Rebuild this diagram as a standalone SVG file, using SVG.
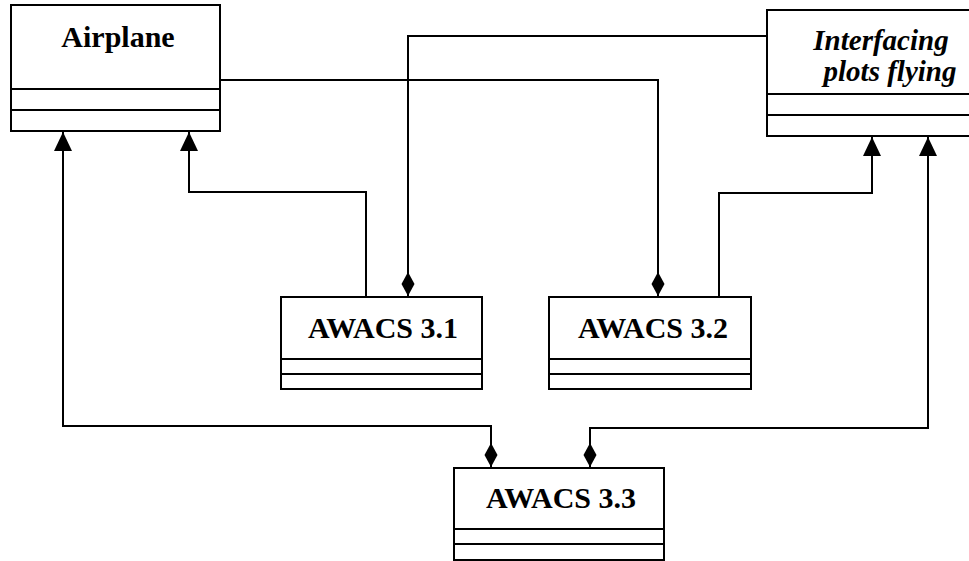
<svg xmlns="http://www.w3.org/2000/svg" width="969" height="561" viewBox="0 0 969 561">
<style>
.box{fill:#fff;stroke:#000;stroke-width:2}
.ln{fill:none;stroke:#000;stroke-width:2}
.t{font-family:"Liberation Serif","Times New Roman",serif;font-weight:bold;font-size:30px;fill:#000}
.i{font-style:italic;font-size:29px}
.c{fill:none;stroke:#000;stroke-width:2}
</style>
<defs>
<marker id="tri" markerUnits="userSpaceOnUse" markerWidth="20" markerHeight="20" viewBox="0 0 20 20" refX="19" refY="9" orient="auto">
<path d="M0,0 L19,9 L0,18 Z" fill="#000"/>
</marker>
<marker id="dia" markerUnits="userSpaceOnUse" markerWidth="26" markerHeight="14" viewBox="0 0 26 14" refX="25" refY="7" orient="auto-start-reverse">
<path d="M1,7 L13,0.5 L25,7 L13,13.5 Z" fill="#000"/>
</marker>
</defs>
<g id="airplane">
<rect class="box" x="11" y="5" width="209" height="126"/>
<line class="ln" x1="11" y1="89" x2="220" y2="89"/>
<line class="ln" x1="11" y1="110" x2="220" y2="110"/>
<text class="t" x="118" y="47" text-anchor="middle">Airplane</text>
</g>
<g id="interfacing">
<rect class="box" x="767" y="10" width="210" height="126"/>
<line class="ln" x1="767" y1="94" x2="969" y2="94"/>
<line class="ln" x1="767" y1="115" x2="969" y2="115"/>
<text class="t i" x="881" y="50" text-anchor="middle">Interfacing</text>
<text class="t i" x="890" y="81" text-anchor="middle">plots flying</text>
</g>
<g id="awacs31">
<rect class="box" x="281" y="297" width="201" height="92"/>
<line class="ln" x1="281" y1="359" x2="482" y2="359"/>
<line class="ln" x1="281" y1="374" x2="482" y2="374"/>
<text class="t" x="383" y="338" text-anchor="middle">AWACS 3.1</text>
</g>
<g id="awacs32">
<rect class="box" x="549" y="297" width="202" height="92"/>
<line class="ln" x1="549" y1="359" x2="751" y2="359"/>
<line class="ln" x1="549" y1="374" x2="751" y2="374"/>
<text class="t" x="653" y="338" text-anchor="middle">AWACS 3.2</text>
</g>
<g id="awacs33">
<rect class="box" x="454" y="468" width="210" height="92"/>
<line class="ln" x1="454" y1="529" x2="664" y2="529"/>
<line class="ln" x1="454" y1="544" x2="664" y2="544"/>
<text class="t" x="561" y="508" text-anchor="middle">AWACS 3.3</text>
</g>
<g id="connectors">
<polyline class="c" points="366,297 366,192 189,192 189,132" marker-end="url(#tri)"/>
<polyline class="c" points="719,297 719,193 872,193 872,137" marker-end="url(#tri)"/>
<polyline class="c" points="220,80 658,80 658,296" marker-end="url(#dia)"/>
<polyline class="c" points="768,36 408,36 408,296" marker-end="url(#dia)"/>
<polyline class="c" points="491,467 491,426 63,426 63,132" marker-start="url(#dia)" marker-end="url(#tri)"/>
<polyline class="c" points="590,467 590,428 928,428 928,137" marker-start="url(#dia)" marker-end="url(#tri)"/>
</g>
</svg>
